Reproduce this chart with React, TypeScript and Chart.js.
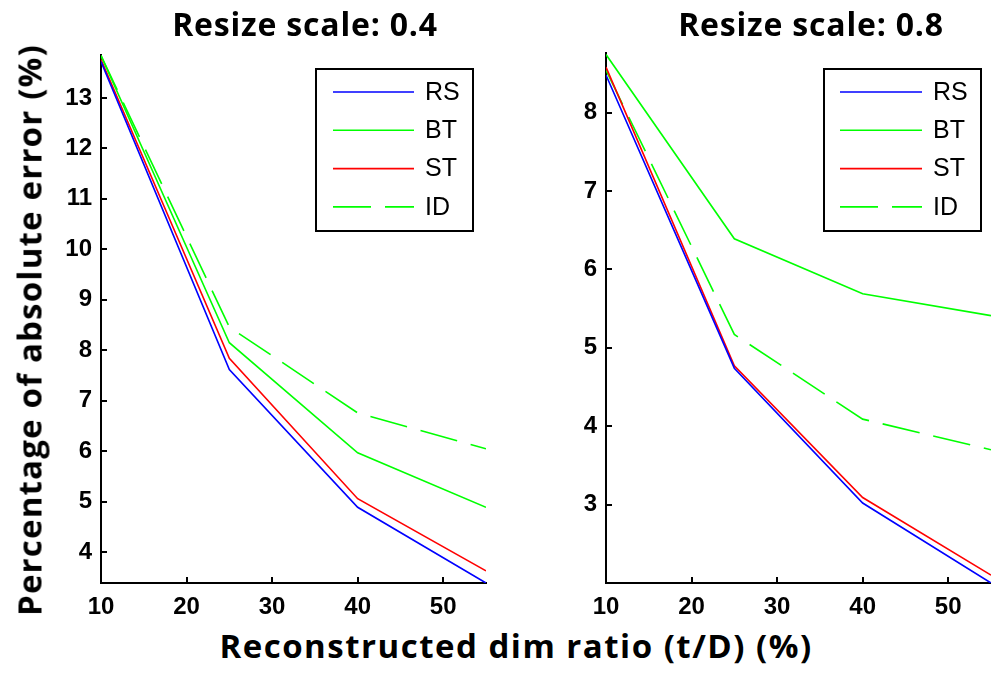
import React, { useEffect, useRef } from "react";
import { Chart, registerables } from "chart.js";

Chart.register(...registerables);

// ---- data ----
const xValues = [10, 25, 40, 55];
const seriesNames = ["RS", "BT", "ST", "ID"];
const seriesColors = ["#0000ff", "#00ff00", "#ff0000", "#00ff00"];
const seriesDashes: number[][] = [[], [], [], [38, 14]];

const rsScale04 = [13.72, 7.62, 4.89, 3.39];
const btScale04 = [13.84, 8.15, 5.97, 4.89];
const stScale04 = [13.76, 7.84, 5.06, 3.63];
const idScale04 = [13.84, 8.46, 6.76, 6.05];

const rsScale08 = [8.48, 4.74, 3.02, 2.0];
const btScale08 = [8.74, 6.39, 5.69, 5.41];
const stScale08 = [8.58, 4.77, 3.09, 2.1];
const idScale08 = [8.54, 5.17, 4.09, 3.7];

const xTicks = [10, 20, 30, 40, 50];
const yTicks04 = [4, 5, 6, 7, 8, 9, 10, 11, 12, 13];
const yTicks08 = [3, 4, 5, 6, 7, 8];

const titles = ["Resize scale: 0.4", "Resize scale: 0.8"];
const yLabel = "Percentage of absolute error (%)";
const xLabel = "Reconstructed dim ratio (t/D) (%)";

const tickFont = { family: '"Liberation Sans", Arial, sans-serif', size: 24, weight: "bold" as const };
const labelFontFamily = '"Open Sans", sans-serif';

const inwardTicks = {
  id: "inwardTicks",
  afterDatasetsDraw(chart: any) {
    const { ctx, chartArea, scales } = chart;
    ctx.save();
    ctx.strokeStyle = "#000";
    ctx.lineWidth = 2;
    ctx.beginPath();
    scales.x.ticks.forEach((t: any) => {
      const px = Math.round(scales.x.getPixelForValue(t.value));
      ctx.moveTo(px, chartArea.bottom);
      ctx.lineTo(px, chartArea.bottom - 6);
    });
    scales.y.ticks.forEach((t: any) => {
      const py = Math.round(scales.y.getPixelForValue(t.value));
      ctx.moveTo(chartArea.left, py);
      ctx.lineTo(chartArea.left + 6, py);
    });
    ctx.stroke();
    ctx.restore();
  },
};

const boxLegend = {
  id: "boxLegend",
  afterDatasetsDraw(chart: any, _args: any, opts: any) {
    const { ctx } = chart;
    ctx.save();
    ctx.fillStyle = "#fff";
    ctx.fillRect(opts.left, opts.top, opts.width, opts.height);
    ctx.strokeStyle = "#000";
    ctx.lineWidth = 2;
    ctx.strokeRect(opts.left, opts.top, opts.width, opts.height);
    chart.data.datasets.forEach((ds: any, i: number) => {
      const y = opts.firstRowY + i * opts.rowGap;
      ctx.strokeStyle = ds.borderColor;
      ctx.lineWidth = ds.borderWidth;
      ctx.setLineDash(ds.borderDash || []);
      ctx.beginPath();
      ctx.moveTo(opts.lineStart, y);
      ctx.lineTo(opts.lineEnd, y);
      ctx.stroke();
      ctx.setLineDash([]);
      ctx.fillStyle = "#000";
      ctx.font = '25px "Liberation Sans", Arial, sans-serif';
      ctx.textBaseline = "middle";
      ctx.textAlign = "left";
      ctx.fillText(ds.label, opts.textX, y + 1);
    });
    ctx.restore();
  },
};

type PanelProps = {
  series: number[][];
  yMin: number;
  yMax: number;
  yTicks: number[];
  yAxisWidth: number;
  padTop: number;
  padRight: number;
  width: number;
  height: number;
  legend: any;
};

function Panel(p: PanelProps) {
  const ref = useRef<HTMLCanvasElement | null>(null);
  useEffect(() => {
    if (!ref.current) return;
    const datasets = p.series.map((vals, i) => ({
      label: seriesNames[i],
      data: xValues.map((x, j) => ({ x, y: vals[j] })),
      borderColor: seriesColors[i],
      backgroundColor: seriesColors[i],
      borderWidth: 1.6,
      borderDash: seriesDashes[i],
      pointRadius: 0,
      tension: 0,
      fill: false,
    }));
    const chart = new Chart(ref.current, {
      type: "line",
      data: { datasets },
      plugins: [inwardTicks, boxLegend],
      options: {
        animation: false,
        responsive: false,
        devicePixelRatio: 1,
        layout: { padding: { top: p.padTop, right: p.padRight, left: 0, bottom: 0 } },
        plugins: {
          legend: { display: false },
          tooltip: { enabled: false },
          title: { display: false },
          boxLegend: p.legend,
        } as any,
        scales: {
          x: {
            type: "linear",
            min: 10,
            max: 55,
            afterBuildTicks: (s: any) => {
              s.ticks = xTicks.map((v) => ({ value: v }));
            },
            afterFit: (s: any) => {
              s.height = 37;
            },
            grid: { display: false, drawTicks: false },
            border: { display: true, color: "#000", width: 2 },
            ticks: { color: "#000", font: tickFont, padding: 10, maxRotation: 0, autoSkip: false },
          },
          y: {
            type: "linear",
            min: p.yMin,
            max: p.yMax,
            afterBuildTicks: (s: any) => {
              s.ticks = p.yTicks.map((v) => ({ value: v }));
            },
            afterFit: (s: any) => {
              s.width = p.yAxisWidth;
            },
            grid: { display: false, drawTicks: false },
            border: { display: true, color: "#000", width: 2 },
            ticks: { color: "#000", font: tickFont, padding: 9, autoSkip: false },
          },
        },
      } as any,
    });
    return () => chart.destroy();
  }, []);
  return (
    <canvas
      ref={ref}
      width={p.width}
      height={p.height}
      style={{ width: p.width, height: p.height, display: "block" }}
    />
  );
}

const textBase: React.CSSProperties = {
  position: "absolute",
  fontFamily: labelFontFamily,
  fontWeight: 700,
  color: "#000",
  whiteSpace: "nowrap",
  lineHeight: 1,
};

export default function App() {
  return (
    <div style={{ position: "absolute", left: 0, top: 0, width: 991, height: 673, background: "#fff", overflow: "hidden" }}>
      <div style={{ position: "absolute", left: 0, top: 0 }}>
        <Panel
          series={[rsScale04, btScale04, stScale04, idScale04]}
          yMin={3.39}
          yMax={13.85}
          yTicks={yTicks04}
          yAxisWidth={101}
          padTop={55}
          padRight={6}
          width={492}
          height={620}
          legend={{ left: 316, top: 69, width: 157, height: 162, lineStart: 333, lineEnd: 414, textX: 425, firstRowY: 92, rowGap: 38.3 }}
        />
      </div>
      <div style={{ position: "absolute", left: 500, top: 0 }}>
        <Panel
          series={[rsScale08, btScale08, stScale08, idScale08]}
          yMin={2.0}
          yMax={8.76}
          yTicks={yTicks08}
          yAxisWidth={106}
          padTop={53}
          padRight={0}
          width={491}
          height={620}
          legend={{ left: 324, top: 69, width: 157, height: 162, lineStart: 340, lineEnd: 422, textX: 433, firstRowY: 92, rowGap: 38.3 }}
        />
      </div>
      <div style={{ ...textBase, fontSize: 32, letterSpacing: 0.8, left: 305, top: 8, transform: "translateX(-50%)" }}>{titles[0]}</div>
      <div style={{ ...textBase, fontSize: 32, letterSpacing: 0.8, left: 811, top: 8, transform: "translateX(-50%)" }}>{titles[1]}</div>
      <div style={{ ...textBase, fontSize: 33, letterSpacing: 1.5, left: 516, top: 629, transform: "translateX(-50%)" }}>{xLabel}</div>
      <div
        style={{
          ...textBase,
          fontSize: 33,
          letterSpacing: 1.2,
          left: 29,
          top: 330,
          transform: "translate(-50%, -50%) rotate(-90deg)",
        }}
      >
        {yLabel}
      </div>
    </div>
  );
}
